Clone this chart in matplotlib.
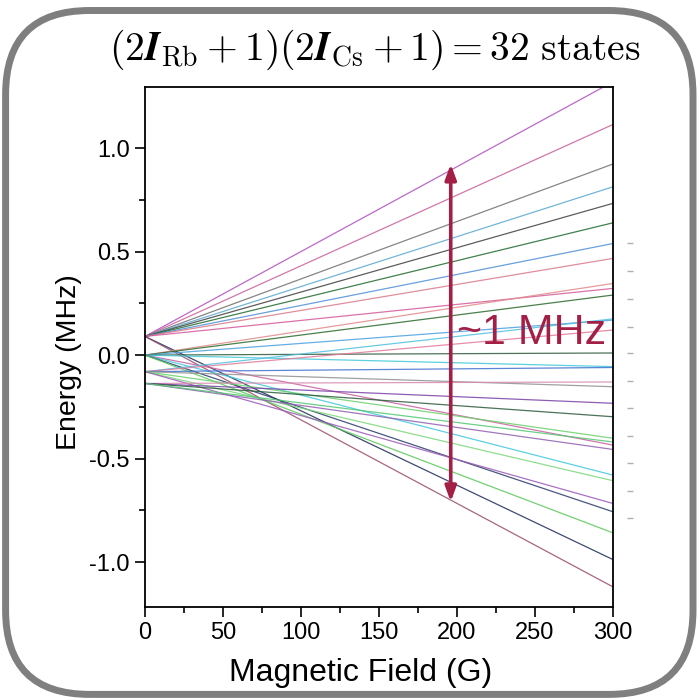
import matplotlib
matplotlib.use("Agg")
import matplotlib.pyplot as plt
from matplotlib.patches import FancyBboxPatch
import numpy as np

plt.rcParams['font.family'] = ['Liberation Sans', 'DejaVu Sans']
plt.rcParams['mathtext.fontset'] = 'cm'

# Field range (G)
field = [0, 300]

# Zero-field starting energies (MHz) of the four hyperfine manifolds
start_I5 = 0.09
start_I4 = 0.0
start_I3 = -0.08
start_I2 = -0.137

# Energies at 300 G (MHz), per manifold
end_I5 = [1.32, 1.114, 0.923, 0.813, 0.733, 0.639, 0.539, 0.467, 0.322, -0.988, -1.12]
end_I4 = [0.346, 0.29, 0.169, 0.01, -0.056, -0.435, -0.58, -0.757, -0.859]
end_I3 = [0.175, 0.121, -0.06, -0.153, -0.402, -0.607, -0.717]
end_I2 = [-0.13, -0.233, -0.298, -0.456, -0.42]

colors_I5 = ['#b04fc0', '#c9609a', '#707070', '#5aa8d0', '#404040', '#1f6b2f',
             '#4f8fd8', '#d97a8a', '#d45a9a', '#1c2a5a', '#9a4a6a']
colors_I4 = ['#e08a8a', '#2a6a2a', '#4aa0e0', '#2f5a3a', '#40c8d8', '#c860a0',
             '#40c8e0', '#2a3a6a', '#5ac85a']
colors_I3 = ['#50c0e0', '#e07a9a', '#4070d0', '#909090', '#6ad06a', '#7ad87a', '#9a5ab8']
colors_I2 = ['#d88ab0', '#7a40a8', '#2a5a3a', '#9060b0', '#50c870']

# faint tick-like marks to the right of the plot (residue of a neighbouring axis)
stray_x = 311
stray_y = [0.541, 0.406, 0.271, 0.135, 0.01, -0.126, -0.256, -0.391, -0.522, -0.657, -0.787]

ylim = (-1.217, 1.295)
xlim = (0, 300)

fig = plt.figure(figsize=(7, 7), dpi=100)

# rounded frame
frame = FancyBboxPatch((0.008, 0.008), 0.982, 0.977,
                       boxstyle="round,pad=0,rounding_size=0.12",
                       transform=fig.transFigure, facecolor='none',
                       edgecolor='#7f7f7f', linewidth=5, zorder=-1)
fig.patches.append(frame)

ax = fig.add_axes([0.2071, 0.1329, 0.6686, 0.7428])
ax.set_facecolor('none')

groups = [(start_I5, end_I5, colors_I5), (start_I4, end_I4, colors_I4),
          (start_I3, end_I3, colors_I3), (start_I2, end_I2, colors_I2)]
for s, ends, cols in groups:
    for e, c in zip(ends, cols):
        ax.plot(field, [s, e], color=c, lw=0.9, alpha=0.85, solid_capstyle='butt')

ax.plot([stray_x] * len(stray_y), stray_y, ls='none', marker='_', ms=4,
        mew=1.0, color='#b0b0b0', clip_on=False)

ax.set_xlim(*xlim)
ax.set_ylim(*ylim)
ax.set_xticks([0, 50, 100, 150, 200, 250, 300])
ax.set_xticks(np.arange(25, 300, 50), minor=True)
ax.set_yticks([-1.0, -0.5, 0.0, 0.5, 1.0])
ax.set_yticks([-0.75, -0.25, 0.25, 0.75], minor=True)
ax.set_yticklabels(['-1.0', '-0.5', '0.0', '0.5', '1.0'])
ax.tick_params(axis='both', which='major', direction='out', length=7, width=1.2,
               labelsize=17)
ax.tick_params(axis='y', which='major', pad=4)
ax.tick_params(axis='both', which='minor', direction='out', length=4, width=1.2)
for sp in ax.spines.values():
    sp.set_linewidth(1.3)

ax.set_xlabel('Magnetic Field (G)', fontsize=23, labelpad=6)
ax.xaxis.set_label_coords(0.46, -0.098)
ax.set_ylabel('Energy (MHz)', fontsize=20.5, labelpad=10)
ax.yaxis.set_label_coords(-0.135, 0.47)

# arrow
arrow_color = '#a31f45'
arrow_x = 196
arrow_top = 0.923
arrow_bottom = -0.709
ax.annotate('', xy=(arrow_x, arrow_top), xytext=(arrow_x, arrow_bottom),
            arrowprops=dict(arrowstyle='<|-|>,head_length=0.9,head_width=0.33',
                            color=arrow_color, lw=2.6, shrinkA=0, shrinkB=0))
ax.text(200, 0.105, '~1 MHz', color=arrow_color, fontsize=31,
        ha='left', va='center')

fig.text(0.536, 0.929,
         r'$(2\mathbfit{I}_{\rm Rb}+1)(2\mathbfit{I}_{\rm Cs}+1) = 32\ \mathrm{states}$',
         ha='center', va='center', fontsize=28.5)

fig.savefig('out.png', dpi=100)
